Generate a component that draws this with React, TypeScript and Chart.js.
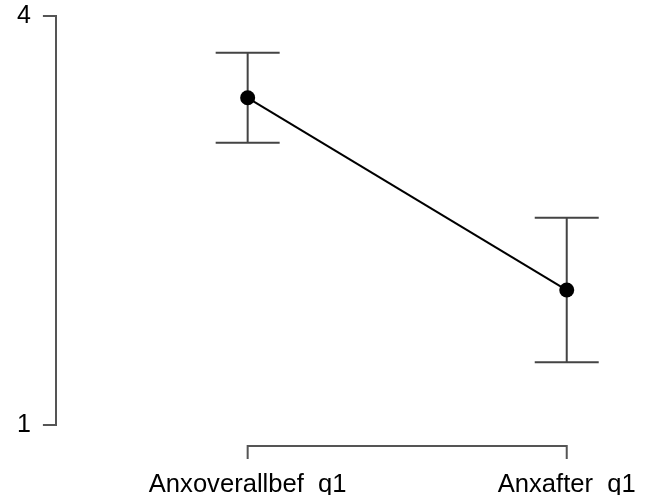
import React, { useEffect, useRef } from 'react';
import { Chart, registerables } from 'chart.js';

Chart.register(...registerables);

// Condition labels, means and confidence-interval bounds
const categories = ['Anxoverallbef_q1', 'Anxafter_q1'];
const means = [3.4, 1.99];
const lowerCI = [3.07, 1.46];
const upperCI = [3.73, 2.52];
const yTicks = [1, 4];

const FONT = '"Liberation Sans", Arial, Helvetica, sans-serif';
const AXIS_GREY = '#555555';

// Vertical interval whiskers with caps, drawn beneath the points
const errorBars = {
  id: 'errorBars',
  beforeDatasetsDraw(chart: any) {
    const { ctx, scales } = chart;
    const x = scales.x;
    const y = scales.y;
    const capHalf = 32;
    ctx.save();
    ctx.strokeStyle = '#444444';
    ctx.lineWidth = 2;
    means.forEach((_, i) => {
      const px = x.getPixelForValue(i);
      const top = y.getPixelForValue(upperCI[i]);
      const bot = y.getPixelForValue(lowerCI[i]);
      ctx.beginPath();
      ctx.moveTo(px, top);
      ctx.lineTo(px, bot);
      ctx.moveTo(px - capHalf, top);
      ctx.lineTo(px + capHalf, top);
      ctx.moveTo(px - capHalf, bot);
      ctx.lineTo(px + capHalf, bot);
      ctx.stroke();
    });
    ctx.restore();
  },
};

// Bracket-style category axis spanning only the first and last condition
const categoryBracket = {
  id: 'categoryBracket',
  afterDraw(chart: any) {
    const { ctx, chartArea, scales } = chart;
    const x = scales.x;
    const x0 = x.getPixelForValue(0);
    const x1 = x.getPixelForValue(categories.length - 1);
    const yLine = chartArea.bottom + 21;
    ctx.save();
    ctx.strokeStyle = AXIS_GREY;
    ctx.lineWidth = 2;
    ctx.beginPath();
    ctx.moveTo(x0, yLine + 13);
    ctx.lineTo(x0, yLine);
    ctx.lineTo(x1, yLine);
    ctx.lineTo(x1, yLine + 13);
    ctx.stroke();
    ctx.fillStyle = '#000000';
    ctx.font = `25.6px ${FONT}`;
    ctx.textAlign = 'center';
    ctx.textBaseline = 'alphabetic';
    categories.forEach((c, i) => {
      ctx.fillText(c, x.getPixelForValue(i), yLine + 46);
    });
    ctx.restore();
  },
};

export default function App() {
  const canvasRef = useRef<HTMLCanvasElement | null>(null);

  useEffect(() => {
    const canvas = canvasRef.current;
    if (!canvas) return;
    const chart = new Chart(canvas, {
      type: 'line',
      data: {
        datasets: [
          {
            data: means.map((m, i) => ({ x: i, y: m })),
            borderColor: '#000000',
            borderWidth: 2,
            pointRadius: 7.5,
            pointBackgroundColor: '#000000',
            pointBorderColor: '#000000',
            pointBorderWidth: 0,
            fill: false,
            tension: 0,
          },
        ],
      },
      options: {
        responsive: false,
        animation: false,
        devicePixelRatio: 1,
        layout: { padding: { left: 5, top: 16, right: 5, bottom: 70 } },
        plugins: {
          legend: { display: false },
          tooltip: { enabled: false },
        },
        scales: {
          x: {
            type: 'linear',
            display: false,
            min: -0.601,
            max: 1.25,
          },
          y: {
            type: 'linear',
            min: 1,
            max: 4,
            afterBuildTicks: (scale: any) => {
              scale.ticks = yTicks.map((v) => ({ value: v }));
            },
            border: { display: true, color: AXIS_GREY, width: 2 },
            grid: {
              display: true,
              drawOnChartArea: false,
              drawTicks: true,
              tickLength: 13,
              color: AXIS_GREY,
              lineWidth: 2,
            },
            ticks: {
              color: '#000000',
              padding: 12,
              // compact line height keeps the top label from pushing the plot down
              font: { family: FONT, size: 25, lineHeight: 0.3 },
            },
          },
        },
      },
      plugins: [errorBars, categoryBracket],
    });
    return () => chart.destroy();
  }, []);

  return (
    <div style={{ position: 'fixed', left: 0, top: 0, width: 654, height: 495, background: '#ffffff' }}>
      <canvas ref={canvasRef} width={654} height={495} />
    </div>
  );
}
